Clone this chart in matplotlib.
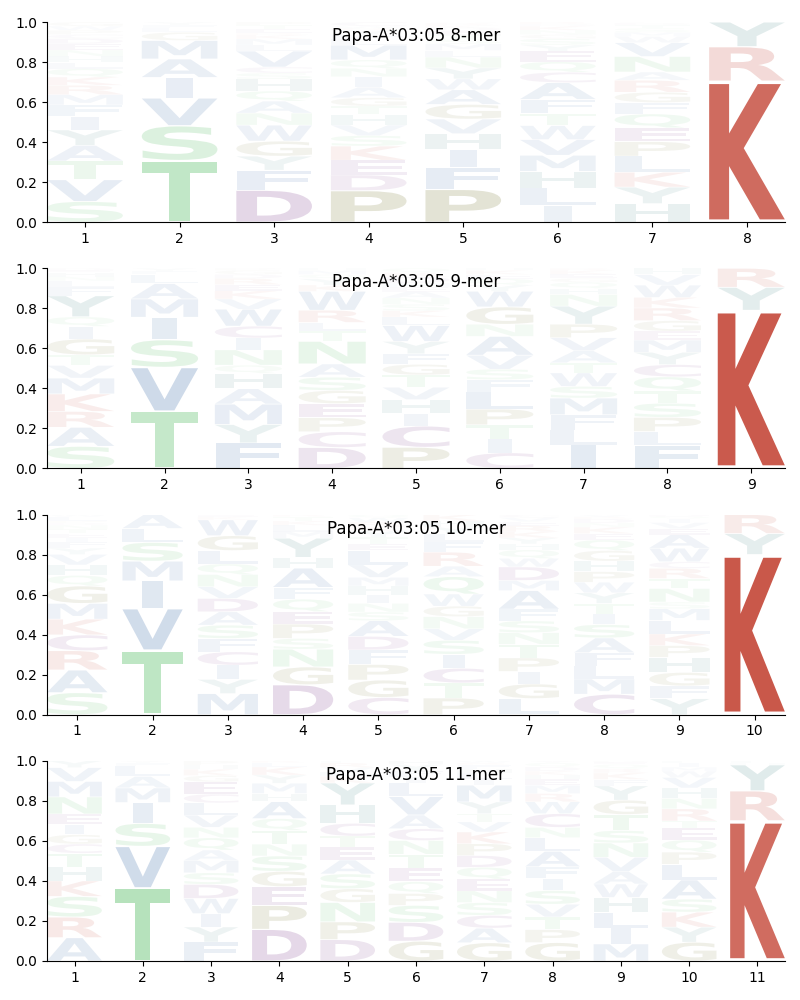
import numpy as np
import matplotlib
matplotlib.use("Agg")
import matplotlib.pyplot as plt
from matplotlib.textpath import TextPath
from matplotlib.patches import PathPatch
from matplotlib.font_manager import FontProperties
from matplotlib.transforms import Affine2D

# ── Data: letters per position (bottom -> top) and heights in % ───────────────
letters_8 = ["SVTAYIFMRKQLHNEDCPWG", "TSVIAMGLFY", "DFYGWNAQHSCVLMKRETP",
             "PDEKSVHTGAINQMLFYRWC", "PFIHVGAWYNLMSTEDKRQ", "ILHMVWTFACQEYSGNKDR",
             "HYKLPEQFGRANVWMSTDC", "KRY"]
heights_8 = [
    [10, 10.5, 9, 7.5, 7.5, 6.5, 5.5, 5, 4.5, 4, 4, 3, 3, 3, 3, 2.5, 2, 2, 2, 2],
    [30, 17, 13.5, 10, 9, 9, 4, 2, 1.5, 1.5],
    [16, 10, 7, 7.5, 8, 6, 6, 5, 6, 3, 3, 8, 3, 3, 2, 1, 2, 2, 1.5],
    [15, 7.5, 7, 6.7, 5, 5, 5, 4, 4, 5, 5, 4, 4, 7, 3, 2, 2, 1, 1, 2],
    [15, 10, 8.3, 7.2, 6.7, 6.7, 6.7, 5, 5, 5, 3, 3, 2, 2, 2, 1.5, 1, 1, 0.5],
    [8, 8.3, 8, 7.7, 7.5, 6.7, 5.8, 6.7, 8, 5, 5, 5, 3, 3, 2, 2, 2, 1, 1],
    [9, 8, 7.2, 7.8, 7, 6.7, 6.7, 5.5, 5, 5.8, 4, 7.5, 6.7, 3, 2, 2, 1.5, 1, 0.5],
    [70.4, 17.3, 12.3],
]

letters_9 = ["SARKMVTGIQYFLNHED", "TVSIMALFY", "FYMAHQNICWVKERDGP",
             "DCPEGSANTLRWKYQMH", "PCIHVTGFYWLKSNAEMDRQ", "CITPLFSVANGWYQEKH",
             "ILFMSWTAVPYNHQGEKR", "FLPSTQCYMEGRKWVH", "KYR"]
heights_9 = [
    [10.5, 9, 7.5, 8.3, 7.5, 6, 5, 7.5, 6, 4.5, 10, 4, 3, 2, 2, 1, 1],
    [28, 21.5, 13.5, 11, 9, 7.5, 4.5, 1.5, 1.5],
    [12.5, 9, 10, 7.5, 7.5, 4, 7.5, 5.8, 5.8, 8.3, 5, 4, 3, 3, 2, 2, 1],
    [10, 7.5, 6.7, 6.7, 6.3, 6.3, 6.3, 10.8, 5, 4, 5.8, 9, 3, 3, 2, 2, 1],
    [10, 10, 5.8, 6.7, 5.8, 5.8, 5, 5, 5.8, 7.5, 4, 3, 3, 3, 3, 2, 2, 3, 2, 2],
    [7.5, 6.7, 6.7, 7.5, 8.3, 5.8, 5, 6.7, 9, 5.8, 8.3, 7.5, 3, 3, 2, 2, 1],
    [11.7, 7.5, 7.5, 8.3, 5.8, 6.7, 5, 6, 6.5, 6.7, 9, 5.8, 3, 3, 2, 2, 2, 1],
    [10.8, 6.7, 6.7, 6.7, 5.8, 6.7, 5.8, 5.8, 5.8, 4.2, 5, 6, 5, 5.8, 5, 3],
    [79, 11.5, 9.5],
]

letters_10 = ["SARCKMGQHVYFIETNDPLW", "TVIMSLA", "MYICFSADVNQLGWKE",
              "DGNSPEQFAHYMLKTR", "CGPFDASNIHMVLETYKRWQ", "PTCISVNGWQARFLYHK",
              "LGIPTNSFAMDWQHYKREVC", "CMLFASITYWPHGQEKNDRV",
              "YFGHPKLMSNTRCWAEVIQD", "KYR"]
heights_10 = [
    [10.5, 10.8, 9.2, 7.5, 7.5, 7.5, 8.3, 5, 5, 5, 3, 3, 2, 2, 2, 2, 1, 1, 2, 1],
    [31, 20, 13.3, 9.5, 9, 6.7, 6.7],
    [10, 6.7, 6.7, 6.3, 6.3, 6.3, 6.3, 6.3, 5.5, 5.8, 5, 6.3, 7, 7.5, 1.5, 1],
    [14, 8.3, 8.3, 5, 6.7, 5.8, 5.8, 5.5, 9, 5, 9, 3, 3, 2, 2, 1],
    [8, 8, 7.2, 6.7, 6.3, 7.2, 4, 4, 4, 4, 4, 5.8, 6.7, 3, 3, 3, 2, 2, 2, 1.5],
    [8, 7.2, 7, 6.7, 6.7, 5.5, 5.8, 5, 5.8, 8.3, 5, 6.7, 5, 4, 3, 3, 3],
    [8, 7.2, 6.2, 6.7, 6.7, 5.8, 5.8, 5.8, 9.2, 5, 6.7, 4.2, 4.2, 3, 3, 3, 3, 2, 2, 1.5],
    [9.7, 7.2, 6.2, 6.2, 7, 6.3, 5, 5, 5, 5, 5, 5, 5, 5, 3, 3, 2, 2, 1, 1],
    [8, 6.3, 6.7, 7.5, 5.8, 5.8, 6.7, 5.8, 3.3, 6.7, 5, 5, 3.3, 6.7, 6.7, 3, 3, 2, 1, 1],
    [80, 10.5, 9.5],
]

letters_11 = ["ARSKHTCGIENMVY", "TVSIMALFY", "FYIWDSMAQNVLCEGKHP",
              "DPEGSNTQAHMYKLR", "DPNGSAETCHYKLVRF", "GDSPQETNCAVLIFYH",
              "GACSNEQDPKVTYMILHFRW", "GPTVSIFALNCWRMEHKDQY",
              "MILHWAVNSTGYFKRQED", "GYKSALPQETRNHVWMIF", "KRYHF"]
heights_11 = [
    [11.3, 10, 10, 7.5, 6.7, 6.7, 4.5, 4.5, 5, 5, 8.3, 7.5, 6.7, 3.3],
    [35, 20, 11, 10, 7, 5.5, 5, 1.5, 1],
    [9, 7.2, 6.3, 7.2, 6.7, 5.5, 5.8, 5, 5.8, 5, 5.8, 5.8, 4.2, 5.8, 3, 3, 2, 2],
    [15.5, 11.7, 9.2, 7.5, 7.5, 5.8, 6.7, 5.8, 8.3, 4, 5, 4, 4, 2, 1],
    [9.7, 8, 8.8, 6.2, 6.7, 6.3, 5.8, 5, 5.8, 8.3, 10, 3, 2, 2, 2, 1],
    [9.7, 9.2, 8.3, 5.8, 5.8, 6.7, 6.7, 6.7, 5.8, 6.7, 9, 6.7, 3, 3, 3, 1.8],
    [9, 7.2, 6.3, 6.3, 5.8, 5.8, 5.8, 5.8, 5.8, 5.8, 5, 4, 5.8, 8.3, 3, 3, 2, 2, 1, 1],
    [9, 6.3, 6.2, 6.2, 6.7, 5.8, 5.8, 7.5, 6.7, 5, 6.7, 5.8, 4, 4, 3, 2, 2, 2, 2, 1],
    [8, 7.5, 7.2, 7, 6.3, 5.8, 6.7, 6.7, 5.8, 7.5, 6.7, 6.7, 3, 3, 2, 2, 1, 0.7],
    [9, 7.2, 7.2, 6.2, 9.2, 7.5, 5.8, 5.8, 5.8, 3.3, 5.8, 5, 5, 5, 3, 2, 2, 1],
    [70, 15, 13, 1, 1],
]

titles = ["Papa-A*03:05 8-mer", "Papa-A*03:05 9-mer",
          "Papa-A*03:05 10-mer", "Papa-A*03:05 11-mer"]
panels = [(letters_8, heights_8), (letters_9, heights_9),
          (letters_10, heights_10), (letters_11, heights_11)]

# ── Colours by residue class ──────────────────────────────────────────────────
COLORS = {}
for aa in "KR":
    COLORS[aa] = "#bc2e1d"
for aa in "DEC":
    COLORS[aa] = "#5d0b6f"
for aa in "PG":
    COLORS[aa] = "#5a5a00"
for aa in "AVILMFW":
    COLORS[aa] = "#20589d"
for aa in "STNQ":
    COLORS[aa] = "#37b248"
for aa in "HY":
    COLORS[aa] = "#116565"

FP = FontProperties(family="DejaVu Sans", weight="bold")
WIDTH = 0.8
VPAD = 0.04
# narrow glyphs (like I) are not stretched wider than E would be
E_WIDTH = TextPath((0, 0), "E", size=1, prop=FP).get_extents().width


def draw_letter(ax, ch, x, y0, h, color, alpha):
    tp = TextPath((0, 0), ch, size=1, prop=FP)
    bb = tp.get_extents()
    pad = VPAD * h / 2
    hh = h - 2 * pad
    sx = min(WIDTH / bb.width, WIDTH / E_WIDTH)
    w = bb.width * sx
    t = (Affine2D().translate(-bb.x0, -bb.y0)
         .scale(sx, hh / bb.height)
         .translate(x - w / 2, y0 + pad))
    ax.add_patch(PathPatch(t.transform_path(tp), facecolor=color,
                           edgecolor="none", alpha=alpha))


fig, axes = plt.subplots(4, 1, figsize=(8, 10))
fig.subplots_adjust(left=0.059, right=0.981, top=0.978, bottom=0.039, hspace=0.23)

for ax, (letters, heights), title in zip(axes, panels, titles):
    L = len(letters)
    for i, (lets, hs) in enumerate(zip(letters, heights)):
        hs = np.array(hs, dtype=float)
        hs = hs / hs.sum()
        floor = 0.0
        for ch, h in zip(lets, hs):
            draw_letter(ax, ch, i + 1, floor, h, COLORS[ch], min(1.0, h))
            floor += h
    ax.set_xlim(1 - WIDTH / 2, L + WIDTH / 2)
    ax.set_ylim(0, 1)
    ax.set_xticks(range(1, L + 1))
    ax.set_yticks(np.arange(0, 1.01, 0.2))
    ax.spines["top"].set_visible(False)
    ax.spines["right"].set_visible(False)
    ax.text(0.5, 0.93, title, transform=ax.transAxes, ha="center", va="center",
            fontsize=12)

fig.savefig("out.png", dpi=100)
